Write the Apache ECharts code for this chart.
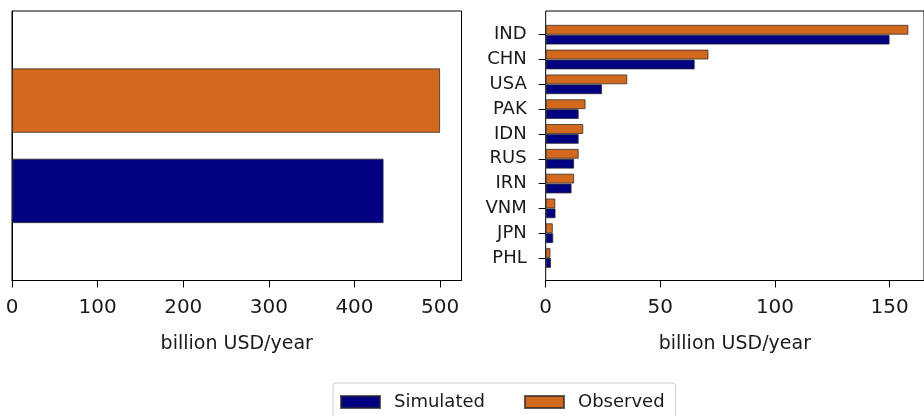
<!DOCTYPE html>
<html>
<head>
<meta charset="utf-8">
<script src="https://cdn.jsdelivr.net/npm/echarts@6/dist/echarts.min.js"></script>
<style>
  html, body { margin: 0; padding: 0; background: #fff; }
  #chart { width: 924px; height: 416px; }
</style>
</head>
<body>
<div id="chart"></div>
<script>
// Global totals (billion USD/year)
const totalSimulated = 434;
const totalObserved = 500;

// Top countries, largest first
const countries = ['IND', 'CHN', 'USA', 'PAK', 'IDN', 'RUS', 'IRN', 'VNM', 'JPN', 'PHL'];
const simulated = [150.0, 65.0, 24.6, 14.4, 14.4, 12.4, 11.3, 4.3, 3.3, 2.3];
const observed  = [158.2, 71.0, 35.6, 17.4, 16.4, 14.4, 12.4, 4.2, 3.1, 2.1];

// Axis tick values
const totalTicks = [0, 100, 200, 300, 400, 500];
const countryTicks = [0, 50, 100, 150];

const FONT = 'DejaVu Sans';
const TXT = '#1a1a1a';
const BLUE = '#000080';
const ORANGE = '#d2691e';
const EDGE = 'rgba(40,40,40,0.75)';

const chart = echarts.init(document.getElementById('chart'), null, { renderer: 'canvas' });

const valueAxis = (grid, max, ticks) => ({
  gridIndex: grid,
  type: 'value',
  min: 0,
  max: max,
  splitLine: { show: false },
  axisLine: { show: true, lineStyle: { color: '#000', width: 1 } },
  axisTick: { show: true, length: 7, lineStyle: { color: '#000' }, customValues: ticks },
  axisLabel: { show: true, margin: 17, fontFamily: FONT, fontSize: 20, color: TXT, customValues: ticks },
  name: 'billion USD/year',
  nameLocation: 'middle',
  nameGap: 54,
  nameTextStyle: { fontFamily: FONT, fontSize: 19, color: TXT }
});

const option = {
  animation: false,
  backgroundColor: '#fff',
  grid: [
    { left: 12, top: 11, width: 449.5, height: 269.5, show: true, borderColor: '#000', borderWidth: 1, containLabel: false },
    { left: 545.7, top: 11, right: -4, height: 269.5, show: true, borderColor: '#000', borderWidth: 1, containLabel: false },
    { left: 545.7, top: 22.3, right: -4, height: 248.1, containLabel: false }
  ],
  xAxis: [
    valueAxis(0, 525, totalTicks),
    valueAxis(1, 165, countryTicks),
    { gridIndex: 2, type: 'value', min: 0, max: 165, show: false }
  ],
  yAxis: [
    { gridIndex: 0, type: 'category', data: [''], axisLine: { show: true, lineStyle: { color: '#000' } },
      axisTick: { show: false }, axisLabel: { show: false } },
    { gridIndex: 1, type: 'value', show: false },
    { gridIndex: 2, type: 'category', data: countries, inverse: true,
      axisLine: { show: false },
      axisTick: { show: true, alignWithLabel: true, length: 7, lineStyle: { color: '#000' } },
      axisLabel: { margin: 19, fontFamily: FONT, fontSize: 18, color: TXT } }
  ],
  legend: {
    data: ['Simulated', 'Observed'],
    icon: 'rect',
    left: 333,
    top: 383,
    orient: 'horizontal',
    itemWidth: 39,
    itemHeight: 12,
    itemGap: 39,
    padding: [10, 11, 14, 7],
    borderColor: '#cfcfcf',
    borderWidth: 1,
    borderRadius: 3,
    textStyle: { fontFamily: FONT, fontSize: 18, color: TXT, padding: [0, 0, 0, 9] }
  },
  series: [
    { type: 'bar', name: 'Observed', xAxisIndex: 0, yAxisIndex: 0, data: [totalObserved],
      barWidth: 64.5, barGap: '40%', itemStyle: { color: ORANGE, borderColor: EDGE, borderWidth: 1 } },
    { type: 'bar', name: 'Simulated', xAxisIndex: 0, yAxisIndex: 0, data: [totalSimulated],
      barWidth: 64.5, barGap: '40%', itemStyle: { color: BLUE, borderColor: EDGE, borderWidth: 1 } },
    { type: 'bar', name: 'Observed', xAxisIndex: 2, yAxisIndex: 2, data: observed,
      barWidth: 9.9, barGap: '0%', itemStyle: { color: ORANGE, borderColor: EDGE, borderWidth: 1 } },
    { type: 'bar', name: 'Simulated', xAxisIndex: 2, yAxisIndex: 2, data: simulated,
      barWidth: 9.9, barGap: '0%', itemStyle: { color: BLUE, borderColor: EDGE, borderWidth: 1 } }
  ]
};

chart.setOption(option);
</script>
</body>
</html>
